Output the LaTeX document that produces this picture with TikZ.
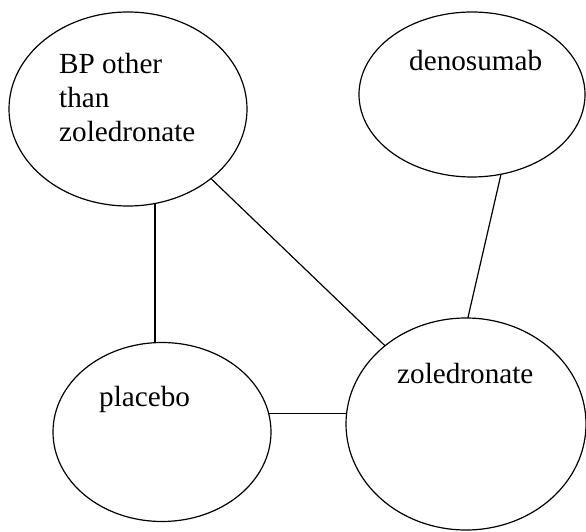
\documentclass[tikz,border=0pt]{standalone}
\usepackage{fontspec}
\setmainfont{Liberation Serif}
\usetikzlibrary{shapes.geometric}
\begin{document}
\begin{tikzpicture}[x=1pt,y=-1pt,
  oval/.style={draw, ellipse, line width=1.2pt, inner sep=0pt, outer sep=0pt},
  lbl/.style={anchor=base west, inner sep=0pt, font=\fontsize{29.2}{34}\selectfont},
  link/.style={line width=1.2pt}]
\useasboundingbox (0,0) rectangle (586,532);
\node[oval, minimum width=238pt, minimum height=194pt] (bp) at (128,109) {};
\node[oval, minimum width=226pt, minimum height=165pt] (deno) at (472,94.5) {};
\node[oval, minimum width=218pt, minimum height=179pt] (plac) at (162,432) {};
\node[oval, minimum width=240pt, minimum height=212pt] (zol) at (466,424) {};
\node[lbl] (bpa) at (59,74) {BP other};
\node[lbl] (bpb) at (59,108) {than};
\node[lbl] (bpc) at (59,142) {zoledronate};
\node[lbl] (denot) at (409,71) {denosumab};
\node[lbl] (plact) at (99,406) {placebo};
\node[lbl] (zolt) at (397,383) {zoledronate};
\draw[link] (bp.-74.6) -- (bp.-74.6 |- plac.north);
\draw[link] (bp.-40.5) -- (zol.136.4);
\draw[link] (deno.-70) -- (zol.89.5);
\draw[link] (plac.10.7) -- (plac.10.7 -| zol.west);
\end{tikzpicture}
\end{document}
